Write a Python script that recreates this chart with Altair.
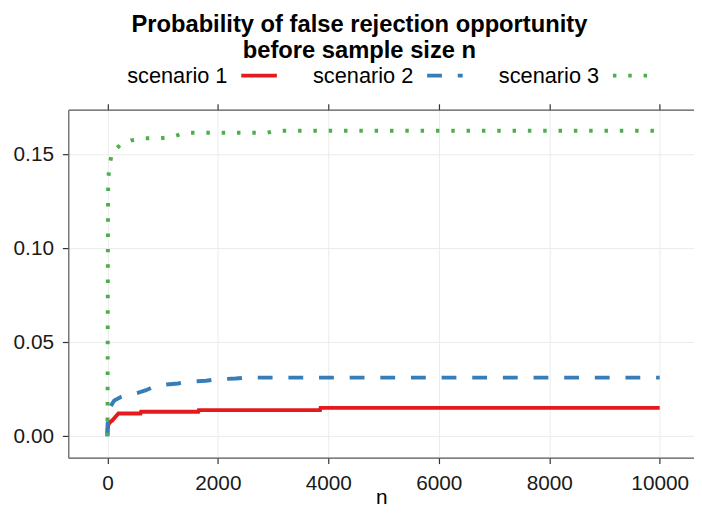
import altair as alt
import pandas as pd

# ---- data ----
scenarios = ["scenario 1", "scenario 2", "scenario 3"]

n1 = [0, 5, 18, 50, 95, 150, 200, 600, 610, 1645, 1655, 3850, 3860, 10000]
p1 = [0.0007, 0.004, 0.0063, 0.0075, 0.0086, 0.0105, 0.0121, 0.0121, 0.0130,
      0.0130, 0.0139, 0.0139, 0.0151, 0.0151]

n2 = [0, 3, 15, 36, 80, 125, 250, 354, 563, 700, 831, 951, 1279, 1428, 1786,
      1964, 2322, 2501, 10000]
p2 = [0.0, 0.006, 0.011, 0.0147, 0.017, 0.019, 0.021, 0.0219, 0.0232, 0.0245,
      0.0263, 0.0272, 0.0281, 0.0289, 0.0295, 0.0303, 0.0307, 0.0312, 0.0312]

n3 = [0, 3, 6, 10, 14, 38, 85, 235, 432, 682, 951, 1201, 1416, 2900, 3038, 10000]
p3 = [0.0, 0.014, 0.06, 0.11, 0.1365, 0.1442, 0.1511, 0.1551, 0.1575, 0.1586,
      0.1586, 0.1596, 0.1616, 0.1616, 0.1626, 0.1626]

x_ticks = [0, 2000, 4000, 6000, 8000, 10000]
y_ticks = [0.0, 0.05, 0.10, 0.15]

colors = ["#E41A1C", "#377EB8", "#4DAF4A"]
dashes = [[1, 0], [15, 16], [3.5, 12]]

rows = []
for name, ns, ps in zip(scenarios, [n1, n2, n3], [p1, p2, p3]):
    for a, b in zip(ns, ps):
        rows.append({"scenario": name, "n": a, "p": b})
df = pd.DataFrame(rows)

FONT = "Liberation Sans"

xscale = alt.Scale(domain=[-708, 10621], nice=False, zero=False)
yscale = alt.Scale(domain=[-0.01142, 0.17384], nice=False, zero=False)

leg = alt.Legend(
    title=None, orient="none", legendX=173, legendY=-54.5,
    direction="horizontal", symbolType="stroke", symbolSize=1296,
    symbolStrokeWidth=4, labelAlign="right", labelOffset={"expr": "-52"},
    labelFontSize=22, labelFont=FONT, labelColor="black",
    columnPadding=28, labelLimit=300,
)

base = alt.Chart(df)

lines = base.mark_line(strokeWidth=4, strokeCap="butt", clip=True).encode(
    x=alt.X("n:Q", scale=xscale,
            axis=alt.Axis(values=x_ticks, title="n", grid=True, format="d",
                          tickSize=6, labelPadding=9, titleY=46,
                          titleBaseline="alphabetic")),
    y=alt.Y("p:Q", scale=yscale,
            axis=alt.Axis(values=y_ticks, format=".2f", title=None, grid=True,
                          tickSize=6, labelPadding=9)),
    color=alt.Color("scenario:N", scale=alt.Scale(domain=scenarios, range=colors), legend=leg),
    strokeDash=alt.StrokeDash("scenario:N", scale=alt.Scale(domain=scenarios, range=dashes), legend=leg),
)

top = base.mark_point(opacity=0).encode(
    x=alt.X("n:Q", scale=xscale,
            axis=alt.Axis(orient="top", values=x_ticks, labels=False, title=None,
                          grid=False, tickSize=6)),
)

chart = alt.layer(lines, top).resolve_axis(x="independent").properties(
    width=633, height=352,
    autosize=alt.AutoSizeParams(type="none"),
    padding={"left": 61, "top": 100, "right": 0, "bottom": 47},
    title=alt.Title(
        ["Probability of false rejection opportunity", "before sample size n"],
        fontSize=24, fontWeight="bold", font=FONT, color="black",
        anchor="middle", frame="group", dx=-22, offset=0, dy=7, lineHeight=26,
    ),
).configure(font=FONT).configure_view(stroke=None).configure_axis(
    labelFontSize=21, labelFont=FONT, labelColor="#1a1a1a",
    titleFontSize=21, titleFont=FONT, titleColor="black", titleFontWeight="normal",
    gridColor="#EBEBEB", gridWidth=1,
    domainColor="#555555", domainWidth=1.2,
    tickColor="#333333", tickWidth=1.2,
)

chart.save("out.html", embed_options={"renderer": "svg", "actions": False})
